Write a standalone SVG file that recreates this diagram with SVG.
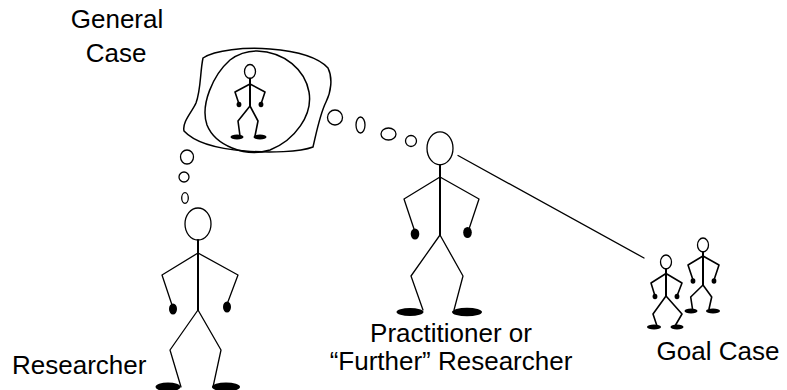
<svg xmlns="http://www.w3.org/2000/svg" width="787" height="390" viewBox="0 0 787 390">
  <style>
    .ln { fill: none; stroke: #000; stroke-width: 1.3; stroke-linejoin: round; stroke-linecap: round; }
    .bd { fill: none; stroke: #000; stroke-width: 2; stroke-linecap: round; }
    .sm { fill: none; stroke: #000; stroke-width: 1.6; stroke-linejoin: round; stroke-linecap: round; }
    .blob { fill: none; stroke: #000; stroke-width: 1.5; }
    .bub { fill: none; stroke: #000; stroke-width: 1.3; }
    .solid { fill: #000; stroke: none; }
    .lbl { font-family: "Liberation Sans", Arial, sans-serif; font-size: 26px; fill: #000; }
  </style>
  <rect width="787" height="390" fill="#fff"/>

  <!-- labels -->
  <g id="labels">
    <text class="lbl" x="117" y="28" text-anchor="middle">General</text>
    <text class="lbl" x="116" y="62" text-anchor="middle">Case</text>
    <text class="lbl" x="12" y="374">Researcher</text>
    <text class="lbl" x="451" y="342" text-anchor="middle">Practitioner or</text>
    <text class="lbl" x="451" y="370" text-anchor="middle">“Further” Researcher</text>
    <text class="lbl" x="718" y="360" text-anchor="middle">Goal Case</text>
  </g>

  <!-- connectors: thought bubbles and the link to the goal case -->
  <g id="connectors">
    <ellipse class="bub" cx="187" cy="157" rx="6.5" ry="7"/>
    <ellipse class="bub" cx="184" cy="177" rx="5" ry="5"/>
    <ellipse class="bub" cx="185" cy="198" rx="3.3" ry="5.3"/>
    <ellipse class="bub" cx="335" cy="117.5" rx="7.5" ry="7.5"/>
    <ellipse class="bub" cx="360.5" cy="125" rx="4.5" ry="8"/>
    <ellipse class="bub" cx="388.5" cy="134" rx="7.5" ry="6"/>
    <ellipse class="bub" cx="411" cy="141" rx="5.5" ry="5.5"/>
    <line class="ln" x1="458" y1="155.5" x2="644" y2="258"/>
  </g>

  <!-- general case: cloud with the generalised figure -->
  <g id="general-case">
    <path class="blob" d="M203,58 C215,50 245,47 270,49 C295,51 318,57 328,68 C333,78 331,92 326,102 C320,114 317,130 313,147 C300,152 270,153 245,151 C220,149 195,143 184,131 C182,122 192,112 196,103 C201,90 200,72 203,58 Z"/>
    <path class="blob" d="M257,51 C285,52 305,70 309,92 C313,115 295,140 270,150 C245,158 215,145 207,125 C200,105 213,75 230,60 C238,54 248,51 257,51 Z"/>
    <ellipse class="ln" cx="250" cy="71.5" rx="5.5" ry="7"/>
    <line class="bd" x1="250" y1="78.5" x2="250" y2="106"/>
    <polyline class="sm" points="239,104 235,92 250,84 265,92 261,104"/>
    <polyline class="sm" points="240,136 238,121 250,106 258,121 255,136"/>
    <ellipse class="solid" cx="239" cy="104.5" rx="2.4" ry="2.8"/>
    <ellipse class="solid" cx="261" cy="104.5" rx="2.4" ry="2.8"/>
    <ellipse class="solid" cx="237" cy="137" rx="6.5" ry="2.5"/>
    <ellipse class="solid" cx="260" cy="137" rx="6.5" ry="2.5"/>
  </g>

  <!-- researcher -->
  <g id="researcher">
    <ellipse class="ln" cx="198" cy="224" rx="13" ry="16"/>
    <line class="bd" x1="198" y1="240" x2="198" y2="310"/>
    <polyline class="ln" points="173,308 162,275 198,253 238,275 226,307"/>
    <polyline class="ln" points="181,387 170,350 198,310 221,350 213,387"/>
    <ellipse class="solid" cx="173" cy="309" rx="4" ry="5.5"/>
    <ellipse class="solid" cx="227" cy="307" rx="4" ry="5.5"/>
    <ellipse class="solid" cx="168" cy="387" rx="12.5" ry="4.5"/>
    <ellipse class="solid" cx="226" cy="387" rx="14" ry="4.5"/>
  </g>

  <!-- practitioner / further researcher -->
  <g id="practitioner">
    <ellipse class="ln" cx="440" cy="148.3" rx="13" ry="16.5"/>
    <line class="bd" x1="440" y1="165" x2="440" y2="235"/>
    <polyline class="ln" points="415,232 404,199 440,177 479,199 468,232"/>
    <polyline class="ln" points="423,310 411,276 440,235 463,276 454,310"/>
    <ellipse class="solid" cx="415" cy="234" rx="4.3" ry="5.5"/>
    <ellipse class="solid" cx="467.5" cy="232.5" rx="4.3" ry="5.5"/>
    <ellipse class="solid" cx="410" cy="312" rx="13.5" ry="4"/>
    <ellipse class="solid" cx="467" cy="312" rx="15" ry="4.3"/>
  </g>

  <!-- goal case: two small figures -->
  <g id="goal-case">
    <ellipse class="ln" cx="666" cy="262" rx="5.5" ry="7"/>
    <line class="bd" x1="666" y1="269" x2="666" y2="296"/>
    <polyline class="sm" points="655,296 651,283 666,273.5 682,283 677,296"/>
    <polyline class="sm" points="657,326 653,314 666,296 682,314 675,326"/>
    <ellipse class="solid" cx="655" cy="296.5" rx="2.4" ry="2.8"/>
    <ellipse class="solid" cx="677" cy="296.5" rx="2.4" ry="2.8"/>
    <ellipse class="solid" cx="654" cy="327" rx="7" ry="2.6"/>
    <ellipse class="solid" cx="677" cy="327" rx="6.5" ry="2.6"/>

    <ellipse class="ln" cx="703" cy="245" rx="5.5" ry="7"/>
    <line class="bd" x1="703" y1="252" x2="703" y2="285"/>
    <polyline class="sm" points="693,280 688,265 703,256 719,265 714,280"/>
    <polyline class="sm" points="692.5,309 690.7,297 703,285 711.7,297 709,309"/>
    <ellipse class="solid" cx="693" cy="281" rx="2.4" ry="2.8"/>
    <ellipse class="solid" cx="714" cy="281" rx="2.4" ry="2.8"/>
    <ellipse class="solid" cx="691" cy="311" rx="6.5" ry="2.6"/>
    <ellipse class="solid" cx="713" cy="311" rx="7" ry="2.6"/>
  </g>
</svg>
